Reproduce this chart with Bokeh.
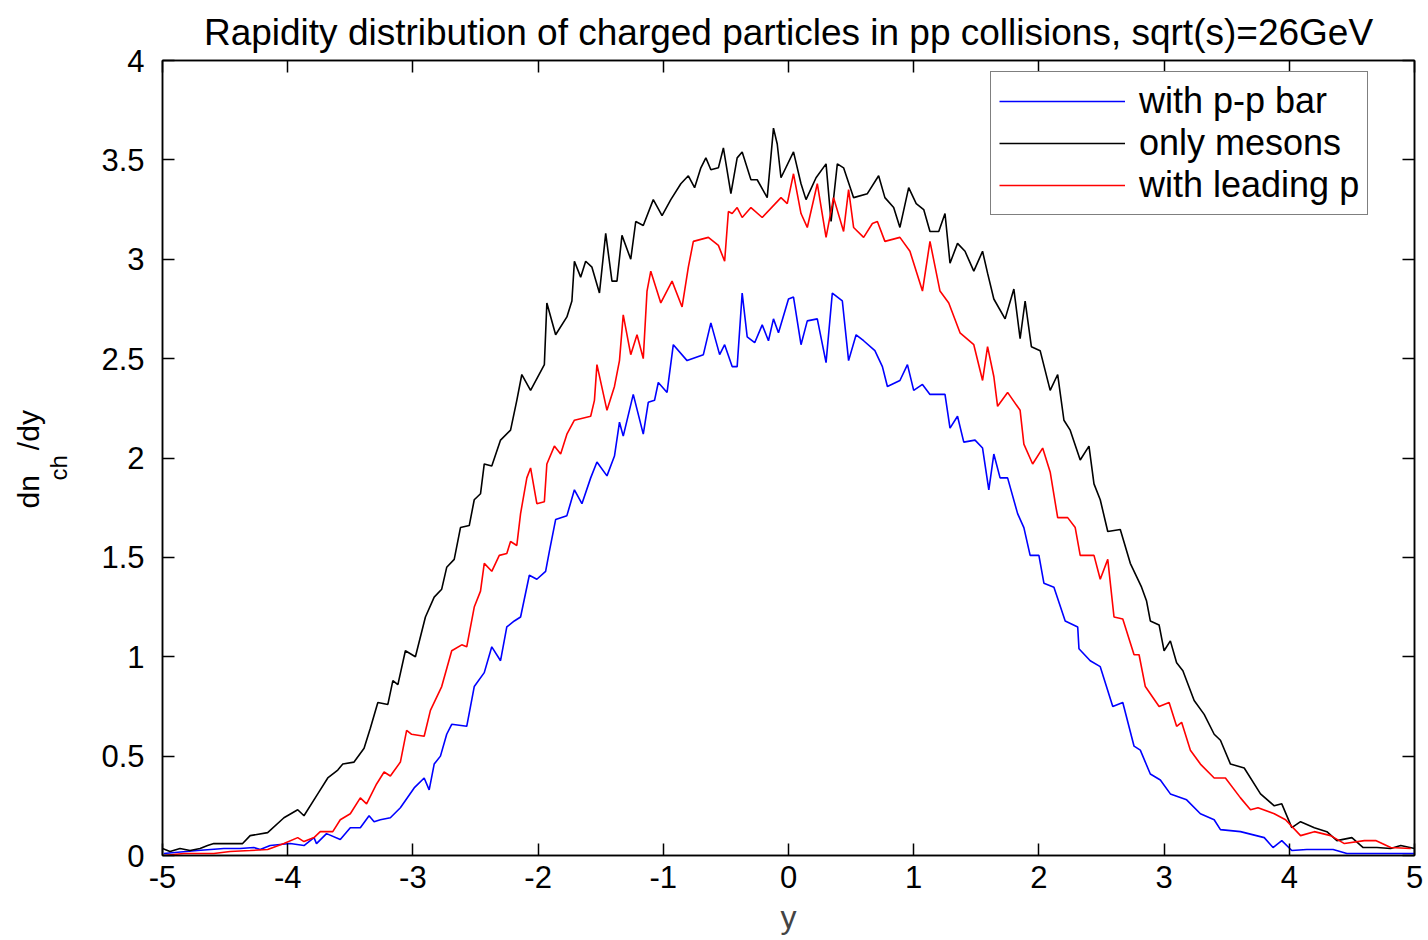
from bokeh.plotting import figure
from bokeh.models import LinearAxis, Legend, LegendItem, Range1d, FixedTicker, Title
from bokeh.embed import file_html
from bokeh.resources import INLINE

# ---- data ----
mes_x = [-5.0, -4.94, -4.86, -4.78, -4.70, -4.64, -4.59, -4.36, -4.30, -4.16, -4.03, -3.92, -3.87, -3.76,
         -3.68, -3.60, -3.56, -3.47, -3.39, -3.34, -3.28, -3.20, -3.16, -3.12, -3.06, -2.98, -2.90, -2.83,
         -2.77, -2.73, -2.67, -2.62, -2.55, -2.51, -2.46, -2.43, -2.37, -2.30, -2.22, -2.17, -2.13, -2.06,
         -1.95, -1.93, -1.86, -1.77, -1.73, -1.71, -1.66, -1.62, -1.57, -1.51, -1.46, -1.41, -1.37, -1.33,
         -1.26, -1.22, -1.16, -1.08, -1.01, -0.94, -0.86, -0.80, -0.75, -0.70, -0.66, -0.62, -0.56, -0.52,
         -0.46, -0.41, -0.37, -0.30, -0.25, -0.17, -0.12, -0.09, -0.06, 0.04, 0.10, 0.14, 0.22, 0.30, 0.34,
         0.39, 0.44, 0.52, 0.63, 0.72, 0.77, 0.84, 0.89, 0.96, 1.02, 1.08, 1.13, 1.20, 1.25, 1.29, 1.35,
         1.41, 1.48, 1.55, 1.59, 1.64, 1.73, 1.80, 1.85, 1.89, 1.94, 2.01, 2.09, 2.15, 2.20, 2.25, 2.33,
         2.40, 2.44, 2.49, 2.55, 2.65, 2.73, 2.82, 2.86, 2.89, 2.96, 3.00, 3.05, 3.10, 3.15, 3.24, 3.32,
         3.40, 3.45, 3.53, 3.64, 3.77, 3.88, 3.94, 4.02, 4.09, 4.20, 4.30, 4.38, 4.50, 4.59, 4.70, 4.81,
         4.89, 5.0]
mes_v = [0.035, 0.02, 0.035, 0.025, 0.035, 0.05, 0.06, 0.06, 0.10, 0.115, 0.19, 0.23, 0.20, 0.31,
         0.39, 0.43, 0.46, 0.47, 0.54, 0.64, 0.77, 0.76, 0.88, 0.86, 1.03, 1.00, 1.20, 1.30,
         1.34, 1.45, 1.49, 1.65, 1.66, 1.79, 1.82, 1.97, 1.96, 2.09, 2.14, 2.29, 2.42, 2.34,
         2.47, 2.78, 2.62, 2.71, 2.79, 2.99, 2.91, 2.99, 2.96, 2.83, 3.13, 2.89, 2.89, 3.12,
         3.00, 3.19, 3.17, 3.30, 3.22, 3.30, 3.38, 3.42, 3.36, 3.46, 3.51, 3.45, 3.46, 3.56,
         3.33, 3.51, 3.54, 3.40, 3.40, 3.31, 3.66, 3.58, 3.41, 3.54, 3.38, 3.30, 3.41, 3.48, 3.19,
         3.48, 3.46, 3.31, 3.33, 3.42, 3.31, 3.26, 3.16, 3.36, 3.28, 3.25, 3.14, 3.14, 3.23, 2.98, 3.08,
         3.04, 2.94, 3.04, 2.93, 2.80, 2.70, 2.85, 2.60, 2.79, 2.56, 2.54, 2.34, 2.42, 2.19, 2.14, 1.99,
         2.06, 1.87, 1.79, 1.63, 1.64, 1.47, 1.35, 1.28, 1.18, 1.16, 1.03, 1.08, 0.97, 0.93, 0.78, 0.71,
         0.61, 0.58, 0.46, 0.44, 0.31, 0.25, 0.26, 0.14, 0.17, 0.14, 0.12, 0.075, 0.09, 0.04, 0.04, 0.035,
         0.05, 0.035]

lead_x = [-4.99, -4.83, -4.59, -4.46, -4.30, -4.16, -4.03, -3.92, -3.87, -3.79, -3.74, -3.64, -3.58,
          -3.50, -3.42, -3.37, -3.29, -3.23, -3.18, -3.10, -3.05, -3.01, -2.91, -2.86, -2.77, -2.69,
          -2.61, -2.57, -2.51, -2.46, -2.43, -2.37, -2.31, -2.25, -2.22, -2.17, -2.14, -2.09, -2.06,
          -2.01, -1.95, -1.93, -1.87, -1.82, -1.77, -1.71, -1.58, -1.55, -1.53, -1.45, -1.39, -1.35,
          -1.32, -1.26, -1.21, -1.16, -1.13, -1.10, -1.02, -0.93, -0.85, -0.80, -0.76, -0.64, -0.56,
          -0.51, -0.48, -0.45, -0.41, -0.37, -0.30, -0.21, -0.06, -0.01, 0.04, 0.10, 0.15, 0.23, 0.30,
          0.36, 0.44, 0.48, 0.52, 0.60, 0.67, 0.71, 0.77, 0.89, 0.97, 1.07, 1.13, 1.21, 1.28, 1.37,
          1.48, 1.55, 1.59, 1.64, 1.67, 1.75, 1.85, 1.88, 1.95, 2.03, 2.09, 2.15, 2.23, 2.29, 2.33,
          2.44, 2.49, 2.55, 2.60, 2.67, 2.76, 2.80, 2.85, 2.96, 3.04, 3.10, 3.14, 3.21, 3.29, 3.40,
          3.49, 3.61, 3.69, 3.75, 3.88, 3.97, 4.09, 4.20, 4.33, 4.44, 4.60, 4.69, 4.81, 4.97]
lead_v = [0.0, 0.01, 0.01, 0.02, 0.025, 0.03, 0.06, 0.09, 0.07, 0.09, 0.12, 0.12, 0.18,
          0.21, 0.29, 0.26, 0.36, 0.42, 0.40, 0.47, 0.63, 0.61, 0.60, 0.73, 0.85, 1.03,
          1.06, 1.05, 1.25, 1.33, 1.47, 1.43, 1.51, 1.52, 1.58, 1.56, 1.72, 1.90, 1.95,
          1.77, 1.78, 1.97, 2.06, 2.02, 2.12, 2.19, 2.21, 2.29, 2.47, 2.24, 2.36, 2.49,
          2.72, 2.52, 2.62, 2.50, 2.84, 2.94, 2.78, 2.89, 2.76, 2.96, 3.09, 3.11, 3.07,
          2.99, 3.24, 3.23, 3.26, 3.21, 3.26, 3.21, 3.31, 3.28, 3.43, 3.23, 3.16, 3.38, 3.11,
          3.31, 3.14, 3.35, 3.16, 3.11, 3.18, 3.19, 3.09, 3.11, 3.04, 2.84, 3.09, 2.84, 2.78, 2.63,
          2.57, 2.39, 2.56, 2.41, 2.26, 2.33, 2.24, 2.07, 1.97, 2.05, 1.93, 1.70, 1.70, 1.65, 1.51,
          1.51, 1.39, 1.49, 1.20, 1.19, 1.01, 1.01, 0.85, 0.75, 0.77, 0.65, 0.67, 0.53, 0.46, 0.39,
          0.39, 0.29, 0.23, 0.24, 0.21, 0.18, 0.10, 0.12, 0.10, 0.06, 0.075, 0.075, 0.04, 0.035]

bar_x = [-4.99, -4.72, -4.51, -4.38, -4.27, -4.22, -4.14, -3.98, -3.87, -3.79, -3.77, -3.69, -3.58,
         -3.50, -3.42, -3.35, -3.31, -3.26, -3.18, -3.10, -2.99, -2.91, -2.87, -2.83, -2.78, -2.73,
         -2.69, -2.57, -2.51, -2.43, -2.37, -2.30, -2.25, -2.19, -2.14, -2.07, -2.01, -1.94, -1.91,
         -1.86, -1.77, -1.71, -1.65, -1.58, -1.53, -1.45, -1.39, -1.35, -1.32, -1.24, -1.16, -1.12,
         -1.07, -1.04, -0.97, -0.92, -0.81, -0.68, -0.62, -0.55, -0.51, -0.45, -0.41, -0.37, -0.33,
         -0.27, -0.21, -0.16, -0.12, -0.08, 0.00, 0.04, 0.10, 0.15, 0.23, 0.30, 0.35, 0.43, 0.48,
         0.54, 0.60, 0.69, 0.75, 0.79, 0.89, 0.95, 1.00, 1.07, 1.13, 1.25, 1.29, 1.35, 1.40, 1.49,
         1.55, 1.60, 1.64, 1.69, 1.75, 1.83, 1.88, 1.93, 2.00, 2.04, 2.12, 2.21, 2.31, 2.32, 2.41,
         2.49, 2.59, 2.67, 2.76, 2.81, 2.89, 2.97, 3.05, 3.18, 3.29, 3.40, 3.45, 3.61, 3.80, 3.87,
         3.94, 4.02, 4.14, 4.35, 4.46, 4.82, 5.0]
bar_v = [0.01, 0.025, 0.035, 0.035, 0.04, 0.03, 0.05, 0.06, 0.05, 0.09, 0.06, 0.11, 0.08,
         0.14, 0.14, 0.20, 0.17, 0.18, 0.19, 0.24, 0.34, 0.39, 0.33, 0.46, 0.50, 0.61,
         0.66, 0.65, 0.85, 0.92, 1.05, 0.98, 1.15, 1.18, 1.20, 1.41, 1.39, 1.43, 1.53,
         1.69, 1.71, 1.84, 1.77, 1.90, 1.98, 1.91, 2.01, 2.18, 2.11, 2.32, 2.12, 2.28,
         2.29, 2.38, 2.33, 2.57, 2.49, 2.52, 2.68, 2.52, 2.57, 2.46, 2.46, 2.83, 2.61,
         2.58, 2.67, 2.59, 2.70, 2.63, 2.80, 2.81, 2.57, 2.69, 2.70, 2.48, 2.83, 2.79, 2.49,
         2.62, 2.59, 2.54, 2.46, 2.36, 2.39, 2.47, 2.34, 2.37, 2.32, 2.32, 2.15, 2.21, 2.08, 2.09,
         2.05, 1.84, 2.02, 1.90, 1.90, 1.72, 1.65, 1.51, 1.51, 1.37, 1.35, 1.18, 1.15, 1.04, 0.98,
         0.95, 0.75, 0.77, 0.55, 0.53, 0.41, 0.38, 0.31, 0.28, 0.21, 0.18, 0.13, 0.12, 0.09, 0.04,
         0.075, 0.025, 0.03, 0.03, 0.01, 0.01, 0.01]

x_ticks = [-5, -4, -3, -2, -1, 0, 1, 2, 3, 4, 5]
y_ticks = [0, 0.5, 1, 1.5, 2, 2.5, 3, 3.5, 4]
series_labels = ["with p-p bar", "only mesons", "with leading p"]
title_text = "Rapidity distribution of charged particles in pp collisions, sqrt(s)=26GeV"
ylabel_main = "dn\u00a0\u00a0\u00a0/dy"
ylabel_sub = "ch"
xlabel = "y"

FONT = "Liberation Sans"

p = figure(width=1428, height=940, frame_width=1252, frame_height=795,
           output_backend="svg", toolbar_location=None,
           x_range=Range1d(-5, 5), y_range=Range1d(0, 4),
           min_border_left=162, min_border_right=14, min_border_top=60, min_border_bottom=85,
           background_fill_color="white", border_fill_color="white")
p.title = None
p.grid.visible = False
p.outline_line_color = "black"
p.outline_line_width = 1.5

def style_axis(ax, labels=True):
    ax.axis_line_color = "black"
    ax.axis_line_width = 1.5
    ax.major_tick_in = 12
    ax.major_tick_out = 0
    ax.major_tick_line_color = "black"
    ax.major_tick_line_width = 1.5
    ax.minor_tick_line_color = None
    ax.major_label_text_font = FONT
    ax.major_label_text_font_size = "31px"
    ax.major_label_text_color = "black"
    if not labels:
        ax.major_label_text_alpha = 0
        ax.major_label_text_font_size = "0px"
        ax.major_label_standoff = 0

p.xaxis.ticker = FixedTicker(ticks=x_ticks)
p.yaxis.ticker = FixedTicker(ticks=y_ticks)
p.xaxis.major_label_overrides = {t: str(t) for t in x_ticks}
p.yaxis.major_label_overrides = {t: ("%g" % t) for t in y_ticks}
style_axis(p.xaxis[0])
style_axis(p.yaxis[0])
p.xaxis.major_label_standoff = 10
p.yaxis.major_label_standoff = 18
p.xaxis.axis_label = xlabel
p.xaxis.axis_label_text_font = FONT
p.xaxis.axis_label_text_font_style = "normal"
p.xaxis.axis_label_text_font_size = "32px"
p.xaxis.axis_label_standoff = 8

top_ax = LinearAxis(ticker=FixedTicker(ticks=x_ticks))
right_ax = LinearAxis(ticker=FixedTicker(ticks=y_ticks))
style_axis(top_ax, labels=False)
style_axis(right_ax, labels=False)
p.add_layout(top_ax, "above")
p.add_layout(right_ax, "right")

r_bar = p.line(bar_x, bar_v, line_color="#0000ff", line_width=1.6)
r_mes = p.line(mes_x, mes_v, line_color="#000000", line_width=1.6)
r_lead = p.line(lead_x, lead_v, line_color="#ff0000", line_width=1.6)

legend = Legend(items=[LegendItem(label=series_labels[0], renderers=[r_bar]),
                       LegendItem(label=series_labels[1], renderers=[r_mes]),
                       LegendItem(label=series_labels[2], renderers=[r_lead])],
                location=(828, 640),
                label_text_font=FONT, label_text_font_size="36px", label_text_color="black",
                glyph_width=126, glyph_height=36, label_height=36, label_standoff=14,
                spacing=0, padding=8, margin=0,
                border_line_color="black", border_line_width=1.5,
                background_fill_color="white", background_fill_alpha=1.0)
p.add_layout(legend, "center")

title = Title(text=title_text, align="center", text_font=FONT, text_font_size="37px",
              text_font_style="normal", text_color="black", standoff=15)
p.add_layout(title, "above")

# y-axis label dn_ch/dy: main text with subscript title stacked beside it
sub = Title(text=ylabel_sub, align="left", offset=375, text_font=FONT, text_font_size="24px",
            text_font_style="normal", text_color="black", standoff=54)
p.add_layout(sub, "left")
main = Title(text=ylabel_main, align="left", offset=347, text_font=FONT, text_font_size="30px",
             text_font_style="normal", text_color="black", standoff=-58)
p.add_layout(main, "left")

open("out.html", "w").write(file_html(p, INLINE))
